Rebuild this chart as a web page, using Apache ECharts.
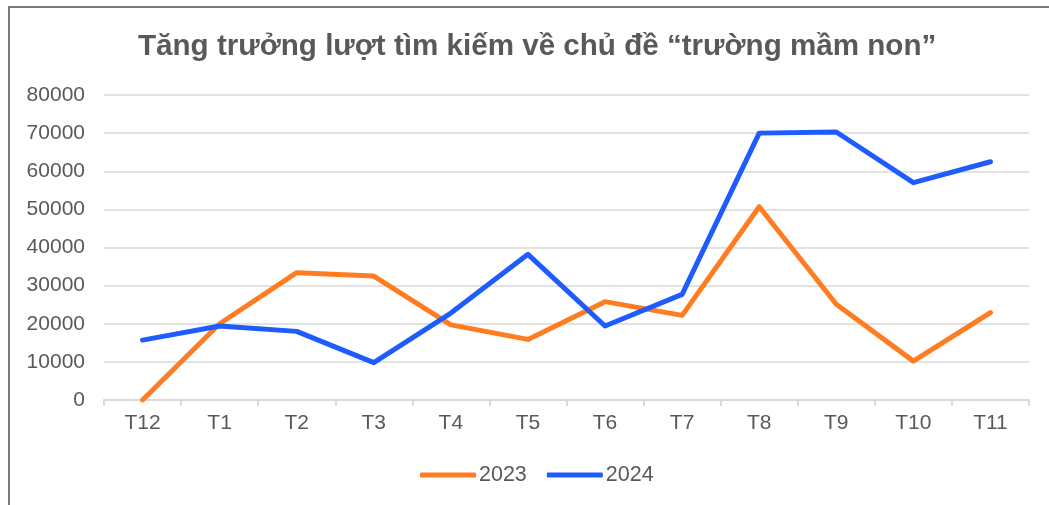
<!DOCTYPE html>
<html>
<head>
<meta charset="utf-8">
<script src="https://cdn.jsdelivr.net/npm/echarts@6/dist/echarts.min.js"></script>
<style>
  html, body { margin: 0; padding: 0; background: #fff; }
  #chart { width: 1049px; height: 505px; }
</style>
</head>
<body>
<div id="chart"></div>
<script>
var months = ['T12', 'T1', 'T2', 'T3', 'T4', 'T5', 'T6', 'T7', 'T8', 'T9', 'T10', 'T11'];
var s2023 = [0, 20000, 33400, 32500, 19700, 15900, 25800, 22200, 50700, 25100, 10200, 22900];
var s2024 = [15700, 19400, 18000, 9800, 22800, 38200, 19400, 27700, 70000, 70300, 57000, 62500];
var seriesNames = ['2023', '2024'];
var colors = ['#ff7c20', '#1f5cff'];

var myChart = echarts.init(document.getElementById('chart'));
var font = 'Liberation Sans, Arial, sans-serif';

var option = {
    animation: false,
    color: colors,
    graphic: [{
        type: 'rect',
        shape: { x: 9, y: 7, width: 1200, height: 700 },
        style: { fill: 'none', stroke: '#7a7a7a', lineWidth: 2 },
        silent: true
    }],
    title: {
        text: 'Tăng trưởng lượt tìm kiếm về chủ đề “trường mầm non”',
        left: 133,
        top: 27,
        textStyle: { fontFamily: font, fontSize: 29.6, fontWeight: 'bold', color: '#595959' }
    },
    legend: {
        bottom: 14,
        left: 415,
        itemWidth: 56,
        itemHeight: 5,
        itemGap: 20,
        icon: 'roundRect',
        textStyle: { fontFamily: font, fontSize: 21.5, color: '#595959', padding: [0, 0, 0, -2] },
        data: seriesNames
    },
    grid: { left: 104, right: 20, top: 95, bottom: 105 },
    xAxis: {
        type: 'category',
        data: months,
        boundaryGap: true,
        axisLine: { lineStyle: { color: '#d9d9d9', width: 2 } },
        axisTick: { show: true, length: 6, lineStyle: { color: '#d9d9d9', width: 2 } },
        axisLabel: { fontFamily: font, fontSize: 21, color: '#595959', margin: 13 }
    },
    yAxis: {
        type: 'value',
        min: 0,
        max: 80000,
        interval: 10000,
        axisLine: { show: false },
        axisTick: { show: false },
        axisLabel: {
            fontFamily: font, fontSize: 21, color: '#595959', margin: 19,
            formatter: function (v) { return String(v); }
        },
        splitLine: { lineStyle: { color: '#d9d9d9', width: 1.5 } }
    },
    series: [
        {
            name: seriesNames[0],
            type: 'line',
            data: s2023,
            symbol: 'none',
            lineStyle: { width: 5, cap: 'round', join: 'round' }
        },
        {
            name: seriesNames[1],
            type: 'line',
            data: s2024,
            symbol: 'none',
            lineStyle: { width: 5, cap: 'round', join: 'round' }
        }
    ]
};
myChart.setOption(option, true);

window.onresize = function () {
    myChart.resize();
};
</script>
</body>
</html>
